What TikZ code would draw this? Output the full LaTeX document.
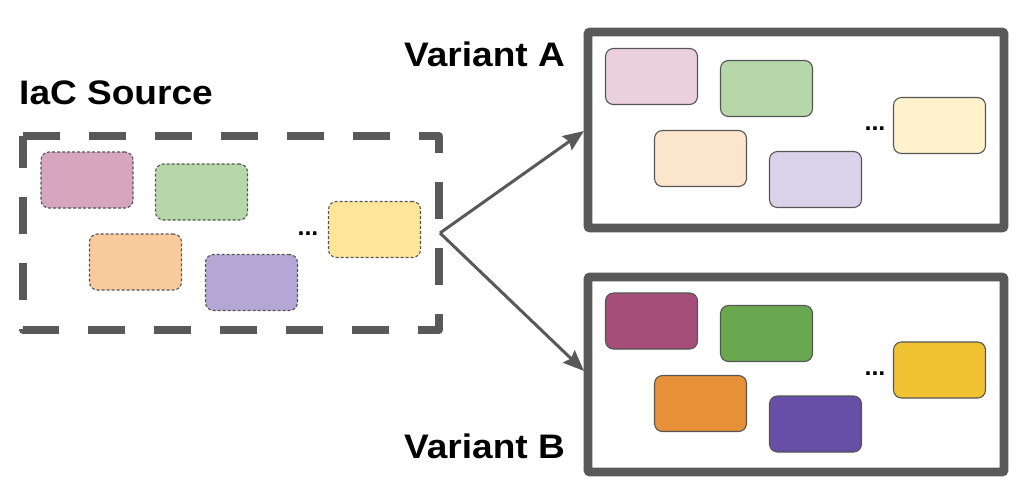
\documentclass[tikz,border=0pt]{standalone}
\usepackage{fontspec}
\setmainfont{Liberation Sans}
\newfontfamily\titlefont[FakeStretch=1.09]{Liberation Sans}
\usetikzlibrary{arrows.meta}
\definecolor{frame}{HTML}{595959}
\definecolor{edge}{HTML}{555555}
% source colours
\definecolor{sPink}{HTML}{D5A6BD}
\definecolor{sGreen}{HTML}{B6D7A8}
\definecolor{sOrange}{HTML}{F9CB9C}
\definecolor{sPurple}{HTML}{B4A7D6}
\definecolor{sYellow}{HTML}{FFE599}
% variant A colours
\definecolor{aPink}{HTML}{EAD1DC}
\definecolor{aGreen}{HTML}{B6D7A8}
\definecolor{aOrange}{HTML}{FCE5CD}
\definecolor{aPurple}{HTML}{D9D2E9}
\definecolor{aYellow}{HTML}{FFF2CC}
% variant B colours
\definecolor{bPink}{HTML}{A64D79}
\definecolor{bGreen}{HTML}{6AA84F}
\definecolor{bOrange}{HTML}{E69138}
\definecolor{bPurple}{HTML}{674EA7}
\definecolor{bYellow}{HTML}{F1C232}
\tikzset{
  blk/.style={draw=edge, line width=1.1pt, rounded corners=8pt,
    minimum width=92pt, minimum height=56pt, inner sep=0pt},
  srcblk/.style={blk, dash pattern=on 3pt off 2pt},
  title/.style={font=\titlefont\fontsize{34}{40}\selectfont\bfseries, anchor=base west, inner sep=0pt},
  dots/.style={font=\fontsize{25}{30}\selectfont\bfseries, anchor=base, inner sep=0pt},
  bigframe/.style={draw=frame, line width=8.7pt, rounded corners=2pt},
  arr/.style={draw=frame, line width=3pt, -{Stealth[length=21pt,width=17pt,inset=3pt]}},
}
\begin{document}
\begin{tikzpicture}[x=1pt,y=-1pt]
\useasboundingbox (0,0) rectangle (1024,499);
% titles
\node[title] (tA) at (404,66) {Variant A};
\node[title] (tS) at (19,104) {IaC Source};
\node[title] (tB) at (404,458) {Variant B};
% source frame (dashed)
\coordinate (snw) at (23,136);
\coordinate (sse) at (439,330);
\draw[draw=frame, line width=8pt, line join=round, dash pattern=on 37pt off 29pt]
  (snw) -- (sse |- snw) -- (sse) -- (snw |- sse) -- cycle;
% variant frames
\node[bigframe, minimum width=416pt, minimum height=196pt, inner sep=0pt] (fA) at (796,130) {};
\node[bigframe, minimum width=416pt, minimum height=195pt, inner sep=0pt] (fB) at (796,374.5) {};
% source blocks
\node[srcblk, fill=sPink]   (s1) at (87,180) {};
\node[srcblk, fill=sGreen]  (s2) at (201.5,192) {};
\node[srcblk, fill=sOrange] (s3) at (135.5,262) {};
\node[srcblk, fill=sPurple] (s4) at (251.5,282.5) {};
\node[srcblk, fill=sYellow] (s5) at (374.5,229.5) {};
\node[dots] (sd) at (308,235) {...};
% variant A blocks
\node[blk, fill=aPink]   (a1) at (651.5,76.5) {};
\node[blk, fill=aGreen]  (a2) at (766.5,88.5) {};
\node[blk, fill=aOrange] (a3) at (700.5,158.5) {};
\node[blk, fill=aPurple] (a4) at (815.5,179.5) {};
\node[blk, fill=aYellow] (a5) at (939.5,125.5) {};
\node[dots] (ad) at (875,130) {...};
% variant B blocks
\node[blk, fill=bPink]   (b1) at (651.5,321) {};
\node[blk, fill=bGreen]  (b2) at (766.5,333.5) {};
\node[blk, fill=bOrange] (b3) at (700.5,403.5) {};
\node[blk, fill=bPurple] (b4) at (815.5,424) {};
\node[blk, fill=bYellow] (b5) at (939.5,370) {};
\node[dots] (bd) at (875,375) {...};
% arrows
\coordinate (fork) at (440,233);
\coordinate (endA) at (584,131);
\coordinate (endB) at (584,371);
\draw[arr] (fork) -- (endA);
\draw[arr] (fork) -- (endB);
\end{tikzpicture}
\end{document}
